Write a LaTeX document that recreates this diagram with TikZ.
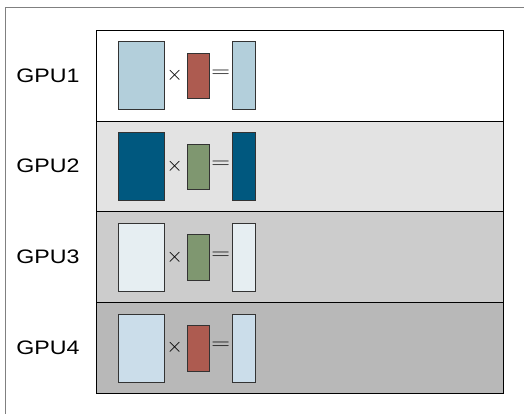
\documentclass[tikz,border=0pt]{standalone}
\usepackage{fontspec}
\setmainfont{Liberation Sans}
\definecolor{lightsteel}{HTML}{B3CFDB}
\definecolor{deepblue}{HTML}{00587F}
\definecolor{paleblue}{HTML}{E6EEF2}
\definecolor{skyblue}{HTML}{CBDDEA}
\definecolor{brickred}{HTML}{AD5B50}
\definecolor{sagegreen}{HTML}{7F9770}
\definecolor{bandA}{HTML}{FFFFFF}
\definecolor{bandB}{HTML}{E3E3E3}
\definecolor{bandC}{HTML}{CCCCCC}
\definecolor{bandD}{HTML}{B8B8B8}
\tikzset{
  band/.style={draw=black, line width=0.9pt},
  matbox/.style={draw=black!80, line width=0.8pt},
  gpulabel/.style={font=\fontsize{19.5}{22}\selectfont, inner sep=0pt},
  opsym/.style={inner sep=0pt, font=\fontsize{21}{24}\selectfont}
}
\begin{document}
\begin{tikzpicture}[x=1pt, y=-1pt]
  \useasboundingbox (0,0) rectangle (524,414);
  % outer frame (top and left edges)
  \draw[gray, line width=0.9pt] (5,414) -- (5,7) -- (524,7);
  % one row: band, label, A x B = C
  \foreach \i/\top/\bot/\bandcol/\acol/\bcol in {
      1/30/121/bandA/lightsteel/brickred,
      2/121/211.5/bandB/deepblue/sagegreen,
      3/211.5/302.5/bandC/paleblue/sagegreen,
      4/302.5/393/bandD/skyblue/brickred}{
    \path[band, fill=\bandcol] (96.5,\top) rectangle (503.5,\bot);
    \pgfmathsetmacro{\mid}{(\top+\bot)/2}
    \node[gpulabel] (gpu\i) at (48,\mid) {\scalebox{1.19}[1]{GPU\i}};
    \path[matbox, fill=\acol] (118.5,\top+11.5) rectangle (164.5,\top+79.5);
    \path[matbox, fill=\bcol] (187,\top+23) rectangle (209.5,\top+68.5);
    \path[matbox, fill=\acol] (232,\top+11.5) rectangle (255.5,\top+79.5);
    \node[opsym] (times\i) at (174.8,\mid) {$\times$};
    \node[opsym] (eq\i) at (220.8,\mid-1.5) {\scalebox{1.25}[1]{$=$}};
  }
\end{tikzpicture}
\end{document}
